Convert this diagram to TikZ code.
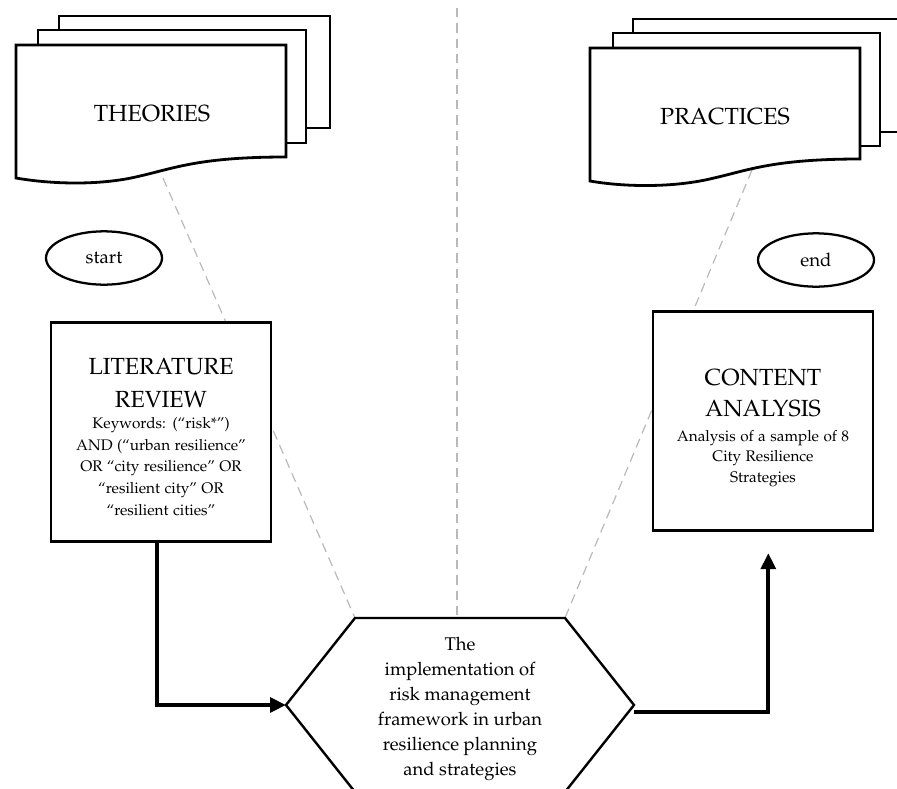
\documentclass[tikz,border=0pt]{standalone}
\usepackage[T1]{fontenc}
\renewcommand{\rmdefault}{ppl}
\usetikzlibrary{shapes.geometric,arrows.meta}

\begin{document}
\begin{tikzpicture}[x=0.75pt,y=-0.75pt,
    sheet/.style={draw, line width=2.1pt, fill=white},
    guide/.style={draw=gray!55, line width=0.9pt, dash pattern=on 7pt off 4.5pt},
    flow/.style={line width=3pt, -{Triangle[length=12pt,width=11pt]}},
    term/.style={ellipse, draw, line width=1.7pt, minimum width=87pt, minimum height=40pt, font=\fontsize{14}{16}\selectfont},
    stepbox/.style={draw, line width=2.2pt, fill=white, minimum width=165pt, minimum height=164pt, text width=158pt, align=center},
    head/.style={font=\fontsize{17.5}{21}\selectfont}]
  \useasboundingbox (0,0) rectangle (897,789);

  % corner points of the hexagon and ends of the guide lines
  \coordinate (thdip) at (163,178);
  \coordinate (prdip) at (752,170);
  \coordinate (axtop) at (457,8);
  \coordinate (hexTL) at (355,618);
  \coordinate (hexT) at (457,618);
  \coordinate (hexTR) at (565,618);
  \coordinate (hexL) at (286,705);
  \coordinate (hexR) at (634,705);
  \coordinate (hexBL) at (355,792);
  \coordinate (hexBR) at (565,792);

  \draw[guide] (thdip) -- (hexTL);
  \draw[guide] (prdip) -- (hexTR);
  \draw[guide] (axtop) -- (hexT);

  % theories
  \draw[sheet] (59,16) rectangle (330,128);
  \draw[sheet] (38,30) rectangle (306,143);
  \draw[sheet] (16,45) -- (286,45) -- (286,157) .. controls (200,157) and (175,168) .. (140,176)
    .. controls (100,186) and (50,184) .. (16,178) -- cycle;
  \node[head] (theories) at (152,114) {THEORIES};

  % practices
  \draw[sheet] (633,19) rectangle (905,132);
  \draw[sheet] (613,33) rectangle (880,146);
  \draw[sheet] (590,48) -- (860,48) -- (860,159) .. controls (774,159) and (749,170) .. (714,178)
    .. controls (674,188) and (624,187) .. (590,181) -- cycle;
  \node[head] (practices) at (725,117) {PRACTICES};

  \node[term] (start) at (104,258) {start};
  \node[term] (end) at (816,260) {end};

  \node[stepbox] (lit) at (161,432) {%
    {\fontsize{17.5}{24.75}\selectfont \rule{0pt}{19pt}LITERATURE\\ REVIEW\par}
    {\fontsize{11.5}{16.2}\selectfont Keywords: (``risk*'')\\ AND (``urban resilience''\\
     OR ``city resilience'' OR\\ ``resilient city'' OR\\ ``resilient cities''\par}};

  \node[stepbox] (cont) at (763,421) {%
    {\fontsize{17.5}{23.25}\selectfont \rule{0pt}{23pt}CONTENT\\ ANALYSIS\par}
    \vspace{3pt}
    {\fontsize{11.5}{15.4}\selectfont Analysis of a sample of 8\\ City Resilience\\ Strategies\par}};

  % framework
  \draw[line width=1.8pt, fill=white] (hexTL) -- (hexTR) -- (hexR) -- (hexBR) -- (hexBL) -- (hexL) -- cycle;
  \node[align=center, font=\fontsize{13.8}{18.75}\selectfont] (impl) at (460,709)
    {The\\ implementation of\\ risk management\\ framework in urban\\ resilience planning\\ and strategies};

  \draw[flow] ([xshift=-3pt]lit.south) |- (hexL);
  \draw[flow, shorten >=16pt] ([yshift=-5pt]hexR) -| ([xshift=4pt]cont.south);
\end{tikzpicture}
\end{document}
